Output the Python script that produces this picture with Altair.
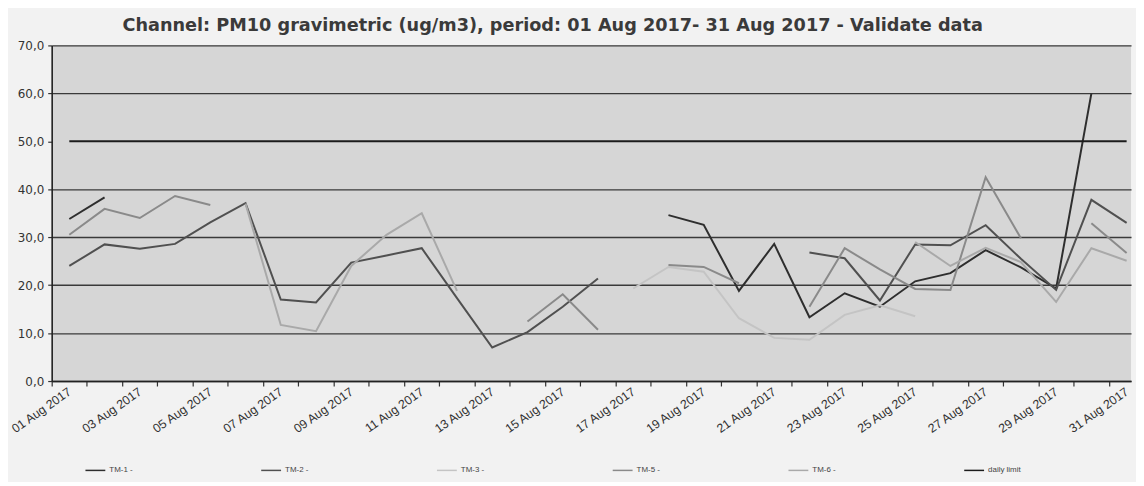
import altair as alt
import pandas as pd

N = None
days = list(range(1, 32))

series_names = ["TM-1 -", "TM-2 -", "TM-3 -", "TM-5 -", "TM-6 -", "daily limit"]
series_colors = ["#2e2e2e", "#505050", "#c4c4c4", "#8a8a8a", "#a9a9a9", "#1c1c1c"]

tm1 = [33.8, 38.3, N, N, N, N, N, N, N, N, N, N, N, N, N, N, N,
       34.6, 32.6, 18.8, 28.6, 13.3, 18.3, 15.5, 20.8, 22.5, 27.3, 23.7, 19.3, 60.0, N]
tm2 = [24.0, 28.5, 27.6, 28.6, 33.1, 37.1, 17.0, 16.4, 24.7, 26.2, 27.7, 17.3, 7.0, 10.2, 15.5, 21.4,
       N, N, N, N, N, 26.8, 25.6, 16.8, 28.5, 28.3, 32.5, 25.5, 19.0, 37.8, 33.0]
tm3 = [N, N, N, N, N, N, N, N, N, N, N, N, N, N, N, N,
       19.3, 23.8, 22.8, 13.1, 9.0, 8.6, 13.8, 15.8, 13.5, N, N, N, N, N, N]
tm5 = [30.5, 35.9, 34.0, 38.6, 36.7, N, N, N, N, N, N, N, N, 12.4, 18.1, 10.7,
       N, 24.2, 23.8, 20.4, N, 15.5, 27.7, 23.3, 19.2, 19.0, 42.5, 29.8, N, 32.9, 26.7]
tm6 = [N, N, N, N, N, 37.0, 11.7, 10.4, 24.0, 30.5, 35.0, 18.8, N, N, N, N,
       N, N, N, N, N, N, N, N, 29.0, 24.0, 27.8, 24.8, 16.5, 27.7, 25.1]
daily_limit = [50.0] * 31

y_ticks = [0, 10, 20, 30, 40, 50, 60, 70]

rows = []
for name, vals in zip(series_names, [tm1, tm2, tm3, tm5, tm6, daily_limit]):
    seg = 0
    prev = False
    for d, v in zip(days, vals):
        if v is None:
            if prev:
                seg += 1
            prev = False
            continue
        rows.append({"date": f"2017-08-{d:02d}T00:00:00", "value": v,
                     "series": name, "seg": f"{name}_{seg}"})
        prev = True
df = pd.DataFrame(rows)

x_values = [alt.DateTime(year=2017, month=7, date=31, hours=12)]
x_values += [alt.DateTime(year=2017, month=8, date=d, hours=12) for d in range(1, 31)]
x_values += [alt.DateTime(year=2017, month=8, date=d, hours=0) for d in range(1, 32, 2)]

x = alt.X(
    "date:T",
    scale=alt.Scale(domain=[alt.DateTime(year=2017, month=7, date=31, hours=12),
                            alt.DateTime(year=2017, month=8, date=31, hours=3)]),
    axis=alt.Axis(
        values=x_values,
        labelExpr="hours(datum.value) == 0 ? timeFormat(datum.value, '%d %b %Y') : ''",
        labelAngle=325, labelAlign="right", labelBaseline="middle",
        labelOverlap=False, labelBound=False, labelFlush=False,
        grid=False,
        tickOpacity={"condition": {"test": "hours(datum.value) == 12", "value": 1}, "value": 0},
        tickSize=5, tickColor="#333333", tickWidth=1.2,
        domainColor="#222222", domainWidth=1.6,
        labelFont="Liberation Sans", labelFontSize=12.4, labelColor="#333333",
        labelPadding=4, title=None,
    ),
)

y = alt.Y(
    "value:Q",
    scale=alt.Scale(domain=[0, 70], nice=False, zero=True),
    axis=alt.Axis(
        values=y_ticks,
        labelExpr="replace(format(datum.value, '.1f'), '.', ',')",
        grid=True, gridColor="#3a3a3a", gridWidth=1.4,
        gridOpacity={"condition": {"test": "datum.value == 50", "value": 0}, "value": 1},
        domainColor="#222222", domainWidth=1.6,
        tickColor="#333333", tickSize=4, tickWidth=1.2,
        labelFont="DejaVu Sans", labelFontSize=12, labelColor="#333333",
        labelPadding=4, title=None,
    ),
)

chart = alt.Chart(df).mark_line(strokeWidth=2).encode(
    x=x,
    y=y,
    color=alt.Color(
        "series:N",
        scale=alt.Scale(domain=series_names, range=series_colors),
        legend=alt.Legend(
            orient="none", legendX=33, legendY=417,
            direction="horizontal", columns=6, gridAlign="all", columnPadding=117,
            symbolType="stroke", symbolSize=400, symbolStrokeWidth=1.5,
            labelFont="Liberation Sans", labelFontSize=8, labelColor="#444444",
            labelOffset=3, title=None,
        ),
    ),
    detail="seg:N",
).properties(
    width=1087,
    height=338,
    title=alt.TitleParams(
        text="Channel: PM10 gravimetric (ug/m3), period: 01 Aug 2017- 31 Aug 2017 - Validate data",
        font="DejaVu Sans", fontSize=17.8, fontWeight="bold", color="#3a3a3a",
        anchor="middle", frame="group", dx=-39, offset=5,
    ),
    background="#f2f2f2",
    padding={"left": 44, "top": 36, "right": 5, "bottom": 100},
    autosize=alt.AutoSizeParams(type="none"),
).configure_view(fill="#d6d6d6", strokeWidth=0)

chart.save("out.html", embed_options={"renderer": "svg", "actions": False})
